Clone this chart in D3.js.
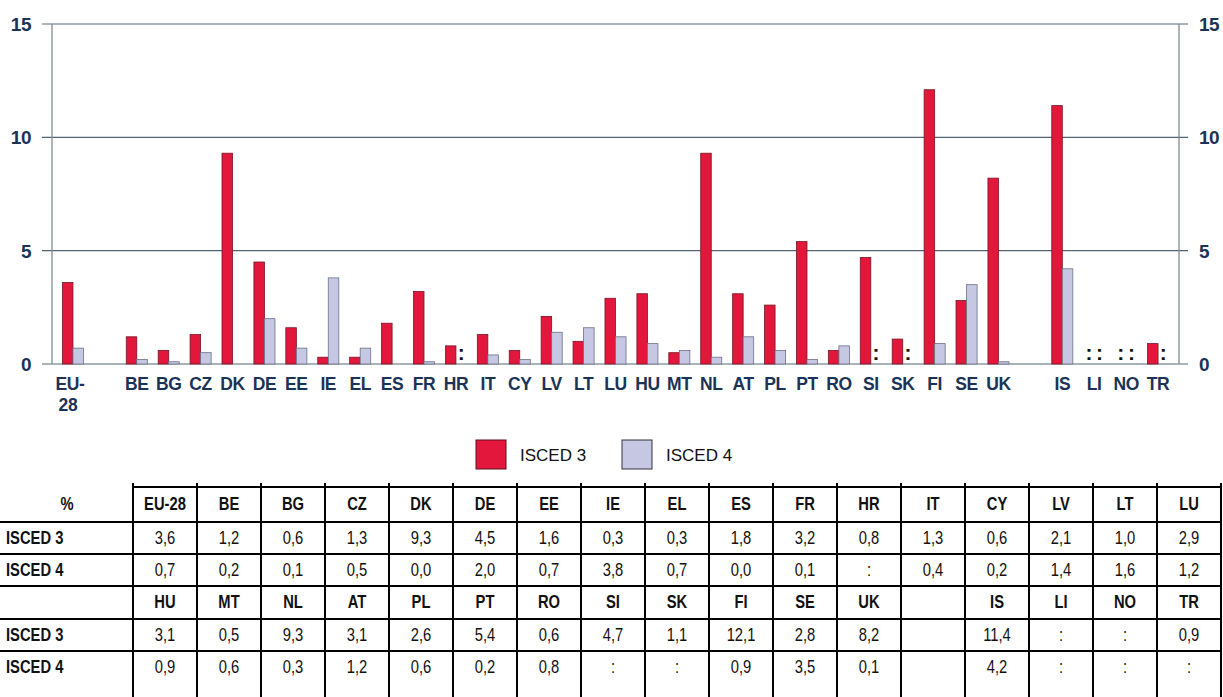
<!DOCTYPE html>
<html>
<head>
<meta charset="utf-8">
<script src="https://cdn.jsdelivr.net/npm/d3@7"></script>
<style>
  body { margin: 0; background: #fff; }
  svg { display: block; }
  .lbl { font-family: "Liberation Sans", Arial, sans-serif; font-weight: bold; fill: #1b3357; }
  .tbl { font-family: "Liberation Sans Narrow", "Arial Narrow", "Liberation Sans", sans-serif; font-size: 18px; fill: #111; }
</style>
</head>
<body>
<script>
// countries in chart order
var countries = ["EU-28","BE","BG","CZ","DK","DE","EE","IE","EL","ES","FR","HR","IT","CY","LV","LT","LU",
                 "HU","MT","NL","AT","PL","PT","RO","SI","SK","FI","SE","UK","IS","LI","NO","TR"];
// % values, null = not available (":")
var isced3 = [3.6,1.2,0.6,1.3,9.3,4.5,1.6,0.3,0.3,1.8,3.2,0.8,1.3,0.6,2.1,1.0,2.9,
              3.1,0.5,9.3,3.1,2.6,5.4,0.6,4.7,1.1,12.1,2.8,8.2,11.4,null,null,0.9];
var isced4 = [0.7,0.2,0.1,0.5,0.0,2.0,0.7,3.8,0.7,0.0,0.1,null,0.4,0.2,1.4,1.6,1.2,
              0.9,0.6,0.3,1.2,0.6,0.2,0.8,null,null,0.9,3.5,0.1,4.2,null,null,null];
var seriesNames = ["ISCED 3","ISCED 4"];
var yTicks = [0,5,10,15];
// slots on the x axis, _g are gaps between groups
var slots = ["EU-28","_g1","BE","BG","CZ","DK","DE","EE","IE","EL","ES","FR","HR","IT","CY","LV","LT","LU",
             "HU","MT","NL","AT","PL","PT","RO","SI","SK","FI","SE","UK","_g2","IS","LI","NO","TR"];
// table layout: two blocks of 17 columns
var tableRow1 = ["EU-28","BE","BG","CZ","DK","DE","EE","IE","EL","ES","FR","HR","IT","CY","LV","LT","LU"];
var tableRow2 = ["HU","MT","NL","AT","PL","PT","RO","SI","SK","FI","SE","UK","","IS","LI","NO","TR"];

var width = 1223, height = 697;
var colors = {"ISCED 3": "#e3173b", "ISCED 4": "#c5c7e3"};
var strokes = {"ISCED 3": "#7a1525", "ISCED 4": "#6d7088"};

var data = countries.map(function(c, i){
    return {country: c, "ISCED 3": isced3[i], "ISCED 4": isced4[i]};
});

var svg = d3.select("body").append("svg")
    .attr("width", width)
    .attr("height", height);

//scales
var x = d3.scaleBand().domain(slots).range([57, 1174]).paddingInner(0.34).paddingOuter(0.17);
var x1 = d3.scaleBand().domain(seriesNames).range([0, x.bandwidth()]);
var y = d3.scaleLinear().domain([0, 15]).range([364, 24]);

var left = 52, right = 1179;

//gridlines
svg.selectAll(".grid")
    .data(yTicks)
    .enter()
    .append("line")
    .attr("x1", left - 10).attr("x2", right + 9)
    .attr("y1", function(d){ return y(d); })
    .attr("y2", function(d){ return y(d); })
    .attr("stroke", function(d){ return (d == 5 || d == 10) ? "#4f6470" : "#8d9ba3"; })
    .attr("stroke-width", 1.3);

//frame sides
svg.append("line").attr("x1", left).attr("x2", left).attr("y1", y(15)).attr("y2", y(0))
    .attr("stroke", "#7d8c94").attr("stroke-width", 1.3);
svg.append("line").attr("x1", right).attr("x2", right).attr("y1", y(15)).attr("y2", y(0))
    .attr("stroke", "#7d8c94").attr("stroke-width", 1.3);

//y labels left and right
svg.selectAll(".yl")
    .data(yTicks)
    .enter()
    .append("text")
    .attr("class", "lbl")
    .attr("x", 31)
    .attr("y", function(d){ return y(d) + 7; })
    .attr("text-anchor", "end")
    .style("font-size", "19px")
    .style("letter-spacing", "-0.5px")
    .text(function(d){ return d; });
svg.selectAll(".yr")
    .data(yTicks)
    .enter()
    .append("text")
    .attr("class", "lbl")
    .attr("x", 1199)
    .attr("y", function(d){ return y(d) + 7; })
    .style("font-size", "19px")
    .style("letter-spacing", "-0.5px")
    .text(function(d){ return d; });

//bars
var groups = svg.selectAll(".grp")
    .data(data)
    .enter()
    .append("g")
    .attr("transform", function(d){ return "translate(" + x(d.country) + ",0)"; });

groups.selectAll("rect")
    .data(function(d){ return seriesNames.filter(function(s){ return d[s] !== null; })
        .map(function(s){ return {s: s, v: d[s]}; }); })
    .enter()
    .append("rect")
    .attr("x", function(d){ return x1(d.s); })
    .attr("width", x1.bandwidth())
    .attr("y", function(d){ return y(d.v); })
    .attr("height", function(d){ return y(0) - y(d.v); })
    .attr("fill", function(d){ return colors[d.s]; })
    .attr("stroke", function(d){ return strokes[d.s]; })
    .attr("stroke-width", 0.8);

//missing value markers
groups.selectAll(".miss")
    .data(function(d){ return seriesNames.filter(function(s){ return d[s] === null; }); })
    .enter()
    .append("text")
    .attr("class", "lbl")
    .attr("x", function(s){ return x1(s) + x1.bandwidth() / 2; })
    .attr("y", y(0) - 4)
    .attr("text-anchor", "middle")
    .style("font-size", "21px")
    .style("fill", "#111")
    .text(":");

//category labels
var xl = svg.selectAll(".xl")
    .data(countries)
    .enter()
    .append("text")
    .attr("class", "lbl")
    .attr("x", function(d){ return x(d) + x.bandwidth() / 2; })
    .attr("y", 390)
    .attr("text-anchor", "middle")
    .style("font-size", "17.5px")
    .style("letter-spacing", "-0.4px");
xl.each(function(d){
    var t = d3.select(this);
    if (d == "EU-28") {
        t.append("tspan").attr("x", x(d) + x.bandwidth() / 2 - 3).text("EU-");
        t.append("tspan").attr("x", x(d) + x.bandwidth() / 2 - 5).attr("dy", 21).text("28");
    } else {
        t.text(d);
    }
});

//legend
var legend = svg.selectAll(".leg")
    .data(seriesNames)
    .enter()
    .append("g")
    .attr("transform", function(d, i){ return "translate(" + (476 + i * 146) + ",440)"; });
legend.append("rect")
    .attr("width", 30).attr("height", 29)
    .attr("fill", function(d){ return colors[d]; })
    .attr("stroke", function(d){ return d == "ISCED 3" ? "#5a1020" : "#30323f"; })
    .attr("stroke-width", 1);
legend.append("text")
    .attr("x", 44).attr("y", 21)
    .style("font-family", "'Liberation Sans', Arial, sans-serif")
    .style("font-size", "17px")
    .style("fill", "#111")
    .text(function(d){ return d; });

//table
var fmt = function(v){ return v === null ? ":" : d3.format(".1f")(v).replace(".", ","); };
var col0 = 133, colW = 64, rowTop = 487;
var rowLines = [522, 554, 586, 619, 651];
var rowsY = [504, 538, 570, 602, 635, 667];

function colX(i){ return col0 + i * colW; }

svg.append("line").attr("x1", col0).attr("x2", colX(17)).attr("y1", rowTop).attr("y2", rowTop)
    .attr("stroke", "#000").attr("stroke-width", 2);
svg.selectAll(".hl")
    .data(rowLines)
    .enter()
    .append("line")
    .attr("x1", 0).attr("x2", colX(17))
    .attr("y1", function(d){ return d; }).attr("y2", function(d){ return d; })
    .attr("stroke", "#000").attr("stroke-width", 2);
svg.selectAll(".vl")
    .data(d3.range(18))
    .enter()
    .append("line")
    .attr("x1", function(i){ return colX(i); }).attr("x2", function(i){ return colX(i); })
    .attr("y1", rowTop - 4).attr("y2", height)
    .attr("stroke", "#000").attr("stroke-width", 2);

var tableRows = [
    {label: "%", cells: tableRow1, head: true},
    {label: "ISCED 3", cells: tableRow1.map(function(c){ return fmt(isced3[countries.indexOf(c)]); })},
    {label: "ISCED 4", cells: tableRow1.map(function(c){ return fmt(isced4[countries.indexOf(c)]); })},
    {label: "", cells: tableRow2, head: true},
    {label: "ISCED 3", cells: tableRow2.map(function(c){ return c == "" ? "" : fmt(isced3[countries.indexOf(c)]); })},
    {label: "ISCED 4", cells: tableRow2.map(function(c){ return c == "" ? "" : fmt(isced4[countries.indexOf(c)]); })}
];

//narrow look: squeeze text horizontally
var squeeze = 0.82;
tableRows.forEach(function(r, ri){
    var yy = rowsY[ri] + 6;
    svg.append("text")
        .attr("class", "tbl")
        .attr("transform", "translate(" + (r.label == "%" ? 67 : 6) + "," + yy + ") scale(" + squeeze + ",1)")
        .attr("text-anchor", r.label == "%" ? "middle" : "start")
        .style("font-weight", "bold")
        .text(r.label);
    svg.selectAll(".c" + ri)
        .data(r.cells)
        .enter()
        .append("text")
        .attr("class", "tbl")
        .attr("transform", function(d, i){ return "translate(" + (colX(i) + colW / 2) + "," + yy + ") scale(" + squeeze + ",1)"; })
        .attr("text-anchor", "middle")
        .style("font-weight", r.head ? "bold" : "normal")
        .text(function(d){ return d; });
});
</script>
</body>
</html>
